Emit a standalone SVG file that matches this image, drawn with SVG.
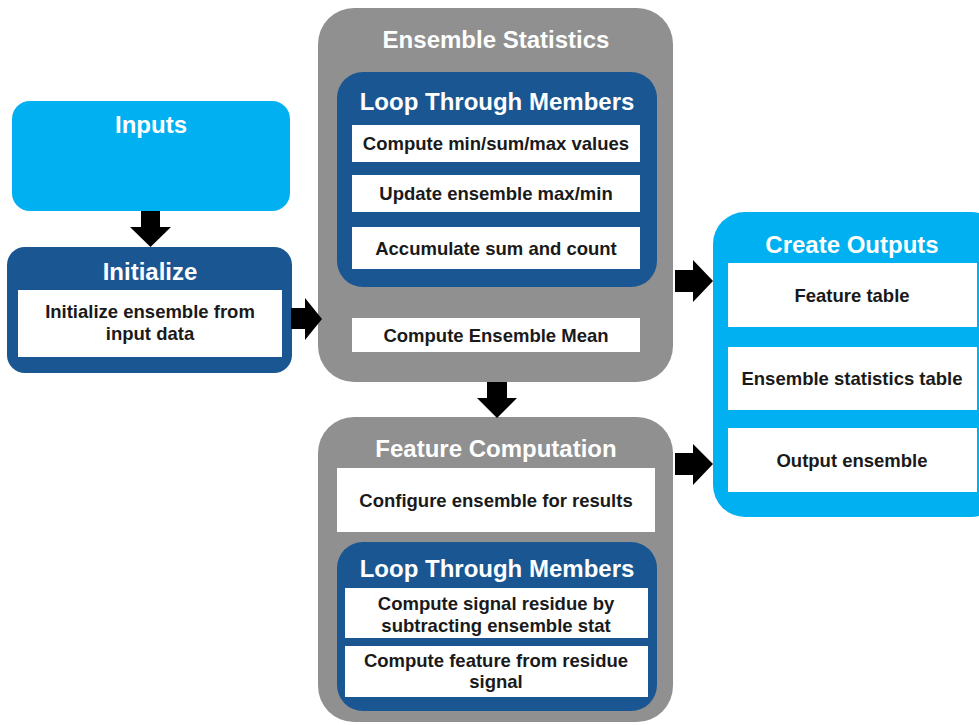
<svg xmlns="http://www.w3.org/2000/svg" width="979" height="725" viewBox="0 0 979 725">
<style>
  .lb { fill: #00B0F0; }
  .db { fill: #1A5691; }
  .gr { fill: #909090; }
  .wb { fill: #FFFFFF; }
  .title { font-family: "Liberation Sans", Arial, sans-serif; font-weight: bold; font-size: 24px; fill: #FFFFFF; text-anchor: middle; }
  .body { font-family: "Liberation Sans", Arial, sans-serif; font-weight: bold; font-size: 18.5px; fill: #1A1A1A; text-anchor: middle; }
  .arrow { fill: #000000; }
</style>
<rect width="979" height="725" fill="#FFFFFF"/>

<g id="inputs">
  <rect class="lb" x="12" y="101" width="278" height="110" rx="18"/>
  <text class="title" x="151" y="133">Inputs</text>
</g>

<g id="initialize">
  <rect class="db" x="7" y="247" width="285" height="126" rx="18"/>
  <text class="title" x="150" y="280">Initialize</text>
  <rect class="wb" x="18" y="290" width="264" height="67"/>
  <text class="body" x="150" y="318">Initialize ensemble from</text>
  <text class="body" x="150" y="340">input data</text>
</g>

<g id="ensemble-statistics">
  <rect class="gr" x="318" y="8" width="355" height="374" rx="36"/>
  <text class="title" x="496" y="48">Ensemble Statistics</text>
  <g id="es-loop">
    <rect class="db" x="337" y="72" width="320" height="215" rx="26"/>
    <text class="title" x="497" y="110">Loop Through Members</text>
    <rect class="wb" x="352" y="125" width="288" height="37"/>
    <text class="body" x="496" y="150">Compute min/sum/max values</text>
    <rect class="wb" x="352" y="175" width="288" height="37"/>
    <text class="body" x="496" y="200">Update ensemble max/min</text>
    <rect class="wb" x="352" y="227" width="288" height="42"/>
    <text class="body" x="496" y="255">Accumulate sum and count</text>
  </g>
  <rect class="wb" x="352" y="318" width="288" height="34"/>
  <text class="body" x="496" y="342">Compute Ensemble Mean</text>
</g>

<g id="feature-computation">
  <rect class="gr" x="318" y="417" width="355" height="305" rx="36"/>
  <text class="title" x="496" y="457">Feature Computation</text>
  <rect class="wb" x="337" y="468" width="318" height="64"/>
  <text class="body" x="496" y="507">Configure ensemble for results</text>
  <g id="fc-loop">
    <rect class="db" x="337" y="542" width="320" height="169" rx="26"/>
    <text class="title" x="497" y="577">Loop Through Members</text>
    <rect class="wb" x="345" y="588" width="303" height="50"/>
    <text class="body" x="496" y="610">Compute signal residue by</text>
    <text class="body" x="496" y="632">subtracting ensemble stat</text>
    <rect class="wb" x="345" y="646" width="303" height="51"/>
    <text class="body" x="496" y="667">Compute feature from residue</text>
    <text class="body" x="496" y="688">signal</text>
  </g>
</g>

<g id="create-outputs">
  <rect class="lb" x="713" y="212" width="290" height="305" rx="32"/>
  <text class="title" x="852" y="253">Create Outputs</text>
  <rect class="wb" x="728" y="263" width="249" height="64"/>
  <text class="body" x="852" y="302">Feature table</text>
  <rect class="wb" x="728" y="347" width="249" height="63"/>
  <text class="body" x="852" y="385">Ensemble statistics table</text>
  <rect class="wb" x="728" y="428" width="249" height="64"/>
  <text class="body" x="852" y="467">Output ensemble</text>
</g>

<g id="connectors">
  <polygon class="arrow" points="141,211 160,211 160,227 171,227 150.5,247 130,227 141,227"/>
  <polygon class="arrow" points="291,308 305,308 305,298 322,319 305,340 305,329 291,329"/>
  <polygon class="arrow" points="487,382 507,382 507,398 517,398 497,418 477,398 487,398"/>
  <polygon class="arrow" points="675,270 693,270 693,260 713,281 693,302 693,292 675,292"/>
  <polygon class="arrow" points="675,453 693,453 693,444 713,464 693,485 693,475 675,475"/>
</g>
</svg>
